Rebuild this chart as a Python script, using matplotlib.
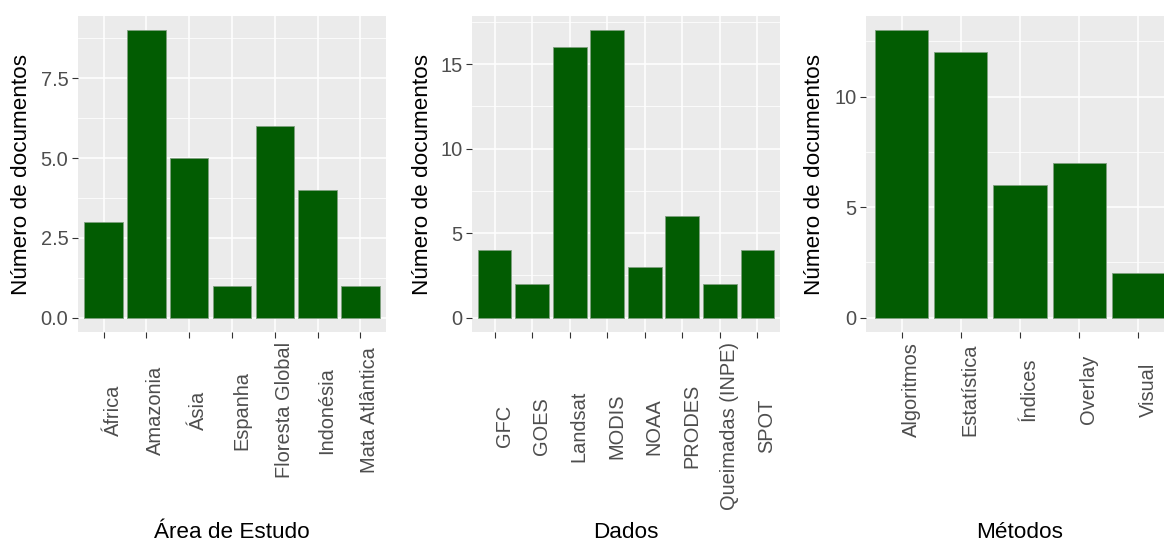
import numpy as np
import matplotlib
matplotlib.use("Agg")
import matplotlib.pyplot as plt
from matplotlib.ticker import FixedLocator

plt.rcParams['font.family'] = ['Liberation Sans', 'DejaVu Sans']

# contagens por categoria
area_cats = ['África', 'Amazonia', 'Ásia', 'Espanha', 'Floresta Global', 'Indonésia', 'Mata Atlântica']
area_vals = [3, 9, 5, 1, 6, 4, 1]

dados_cats = ['GFC', 'GOES', 'Landsat', 'MODIS', 'NOAA', 'PRODES', 'Queimadas (INPE)', 'SPOT']
dados_vals = [4, 2, 16, 17, 3, 6, 2, 4]

metodos_cats = ['Algoritmos', 'Estatística', 'Índices', 'Overlay', 'Visual']
metodos_vals = [13, 12, 6, 7, 2]

area_yticks = [0, 2.5, 5, 7.5]
area_ylabels = ['0.0', '2.5', '5.0', '7.5']
dados_yticks = [0, 5, 10, 15]
metodos_yticks = [0, 5, 10]

DPI = 100
W, H = 1164, 543
fig = plt.figure(figsize=(W / DPI, H / DPI), dpi=DPI)

bar_color = '#025c02'
panel_bg = '#EBEBEB'
tick_col = '#4D4D4D'


def gg_bar(left_px, cats, vals, yticks, ylabels, xtitle, ylab_off_px):
    # painel no estilo ggplot (theme_gray)
    ax = fig.add_axes([left_px / W, (H - 332) / H, 308 / W, 316 / H])
    ax.set_facecolor(panel_bg)
    n = len(cats)
    x = np.arange(1, n + 1)
    top = max(vals)
    ax.set_xlim(0.4, n + 0.6)
    ax.set_ylim(-0.05 * top, top * 1.05)

    # grade principal e secundária
    minor = [(a + b) / 2 for a, b in zip(yticks[:-1], yticks[1:])]
    step = yticks[1] - yticks[0]
    minor.append(yticks[-1] + step / 2)
    for m in minor:
        ax.axhline(m, color='white', lw=0.55, zorder=0.5)
    for t in yticks:
        ax.axhline(t, color='white', lw=1.1, zorder=0.6)
    for xi in x:
        ax.axvline(xi, color='white', lw=1.1, zorder=0.6)

    ax.bar(x, vals, width=0.9, color=bar_color, edgecolor='#7fa07f', linewidth=0.6, zorder=2)

    for s in ax.spines.values():
        s.set_visible(False)
    ax.yaxis.set_major_locator(FixedLocator(yticks))
    ax.set_yticklabels(ylabels)
    ax.set_xticks(x)
    ax.set_xticklabels(cats)
    ax.tick_params(axis='both', colors='#333333', length=4.5, width=0.8,
                   labelsize=14.4, labelcolor=tick_col)
    ax.tick_params(axis='y', pad=2.5)

    ax.set_ylabel('Número de documentos', fontsize=16.2, color='black', va='center')
    ax.yaxis.set_label_coords(ylab_off_px / 308, 0.5)
    ax.set_xlabel(xtitle, fontsize=16.2, color='black', va='center')
    ax.xaxis.set_label_coords(0.5, -(533 - 332) / 316)
    return ax


axes = [
    gg_bar(78, area_cats, area_vals, area_yticks, area_ylabels, 'Área de Estudo', -56),
    gg_bar(472, dados_cats, dados_vals, dados_yticks, [str(v) for v in dados_yticks], 'Dados', -49),
    gg_bar(866, metodos_cats, metodos_vals, metodos_yticks, [str(v) for v in metodos_yticks], 'Métodos', -52),
]

# rótulos verticais centrados na faixa do rótulo mais longo
for ax in axes:
    plt.setp(ax.get_xticklabels(), rotation=90, ha='left')
fig.canvas.draw()
r = fig.canvas.get_renderer()
for ax in axes:
    h = max(t.get_window_extent(r).height for t in ax.get_xticklabels())
    ax.tick_params(axis='x', pad=(4 + h / 2) * 72 / DPI)
    plt.setp(ax.get_xticklabels(), rotation=90, ha='left', va='center')

fig.savefig('out.png', dpi=DPI, facecolor='white')
